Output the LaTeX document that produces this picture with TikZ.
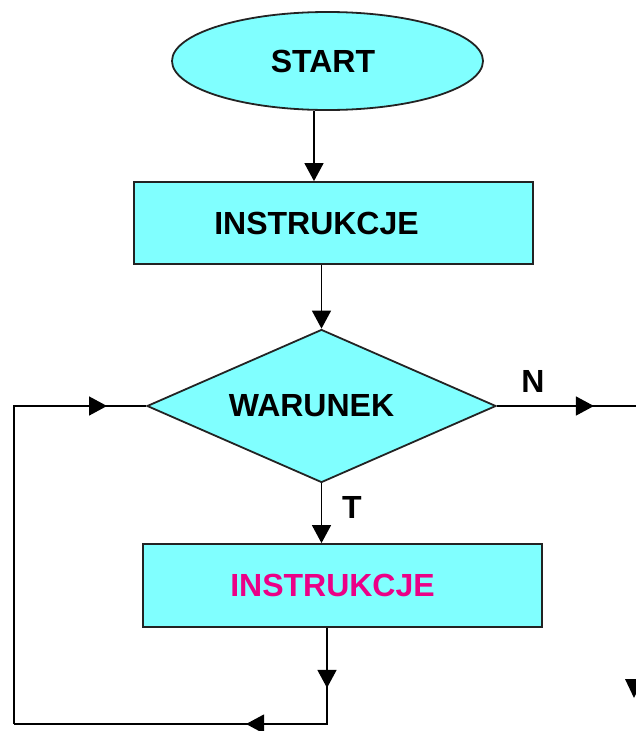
\documentclass[tikz,border=0pt]{standalone}
\usepackage{fontspec}
\setmainfont{Liberation Sans}
\usetikzlibrary{shapes.geometric,arrows.meta,decorations.markings}
\definecolor{boxfill}{RGB}{128,255,255}
\definecolor{edgecol}{RGB}{35,35,35}
\definecolor{pinktext}{RGB}{235,0,135}
\begin{document}
\begin{tikzpicture}[x=1pt,y=-1pt,
  txt/.style={font=\fontsize{32}{32}\selectfont\bfseries},
  shapebox/.style={draw=edgecol, line width=1.8pt, fill=boxfill, inner sep=0pt, txt},
  conn/.style={draw=black, line width=1.5pt},
  headtip/.style={-{Triangle[length=18pt,width=19pt]}},
  midhead/.style={postaction={decorate},
    decoration={markings, mark=at position #1 with {\arrow{Triangle[length=18pt,width=19pt]}}}}
]
\useasboundingbox (0,0) rectangle (635,731);

\node[shapebox, ellipse, minimum width=311pt, minimum height=98pt] (start) at (327.5,61) {START\hspace*{9pt}};
\node[shapebox, rectangle, minimum width=399pt, minimum height=82pt] (r1) at (333.5,223) {\raisebox{-4pt}{INSTRUKCJE}\hspace*{34pt}};
\node[shapebox, diamond, shape aspect=2.28, minimum width=349pt, minimum height=153pt] (d) at (321.5,406) {WARUNEK\hspace*{20pt}};
\node[shapebox, rectangle, minimum width=399pt, minimum height=83pt, text=pinktext] (r2) at (342.5,585.5) {INSTRUKCJE\hspace*{20pt}};

\node[txt] (lblN) at (533,381) {N};
\node[txt] (lblT) at (352,507) {T};

\coordinate (lft) at (14,724);
\coordinate (rout) at (640,406);

\draw[conn, headtip] ([xshift=-13.5pt]start.south) -- ([xshift=-13.5pt]start.south |- r1.north);
\draw[conn, headtip] (d.north |- r1.south) -- (d.north);
\draw[conn, headtip] (d.south) -- (d.south |- r2.north);

\draw[conn, midhead=60pt] ([xshift=-15.5pt]r2.south) |- (lft);
\draw[conn, midhead=177pt] ([xshift=-15.5pt]r2.south) |- (lft);
\draw[conn, midhead=411pt] (lft) |- (d.west);
\draw[conn, midhead=97pt] (d.east) -- (rout);

\fill[black] (625,679) -- (643,679) -- (634,698) -- cycle;
\end{tikzpicture}
\end{document}
